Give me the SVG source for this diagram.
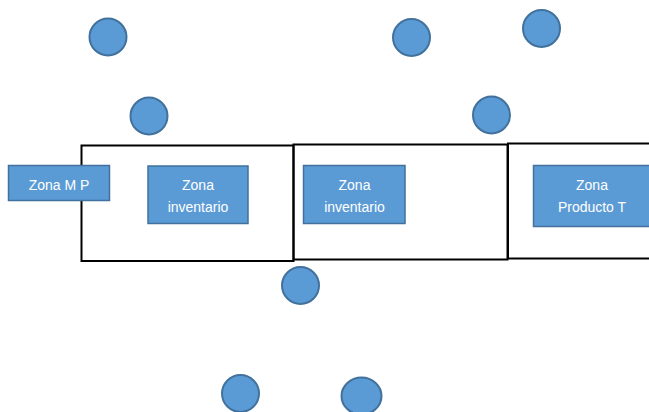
<svg xmlns="http://www.w3.org/2000/svg" width="649" height="412" viewBox="0 0 649 412">
  <style>
    .zone { fill: none; stroke: #000; stroke-width: 2; }
    .box { fill: #5B9BD5; stroke: #41719C; stroke-width: 1.5; }
    .dot { fill: #5B9BD5; stroke: #41719C; stroke-width: 2; }
    .label { fill: #fff; font-family: "Liberation Sans", Arial, sans-serif; font-size: 14px; text-anchor: middle; }
  </style>
  <rect width="649" height="412" fill="#fff"/>

  <!-- outlined zones -->
  <g id="zone-frames">
    <rect class="zone" x="81.5" y="145.5" width="212" height="115.5"/>
    <rect class="zone" x="293.5" y="144.5" width="214" height="115"/>
    <rect class="zone" x="508" y="143.5" width="150" height="115"/>
  </g>

  <g id="zona-mp">
    <rect class="box" x="8.5" y="165.5" width="101" height="35"/>
    <text class="label" x="59" y="189.5">Zona M P</text>
  </g>

  <g id="zona-inventario-1">
    <rect class="box" x="148" y="166" width="100" height="57.5"/>
    <text class="label" x="198" y="190">Zona</text>
    <text class="label" x="198" y="211.5">inventario</text>
  </g>

  <g id="zona-inventario-2">
    <rect class="box" x="303.5" y="165.5" width="101.5" height="58"/>
    <text class="label" x="354.5" y="190">Zona</text>
    <text class="label" x="354.5" y="211.5">inventario</text>
  </g>

  <g id="zona-producto-t">
    <rect class="box" x="533.5" y="165.5" width="118" height="61"/>
    <text class="label" x="592" y="190">Zona</text>
    <text class="label" x="592" y="211.5">Producto T</text>
  </g>

  <!-- circles -->
  <g id="dot-1"><circle class="dot" cx="108" cy="37" r="18.5"/></g>
  <g id="dot-2"><circle class="dot" cx="149" cy="116" r="18.5"/></g>
  <g id="dot-3"><circle class="dot" cx="411.5" cy="37.5" r="18.5"/></g>
  <g id="dot-4"><circle class="dot" cx="541.5" cy="28.5" r="18.5"/></g>
  <g id="dot-5"><circle class="dot" cx="491.5" cy="115" r="18.5"/></g>
  <g id="dot-6"><circle class="dot" cx="300.5" cy="285.5" r="18.5"/></g>
  <g id="dot-7"><circle class="dot" cx="240.5" cy="393.5" r="18.5"/></g>
  <g id="dot-8"><ellipse class="dot" cx="361.5" cy="396" rx="20" ry="18.5"/></g>

  <g id="connectors"></g>
</svg>
